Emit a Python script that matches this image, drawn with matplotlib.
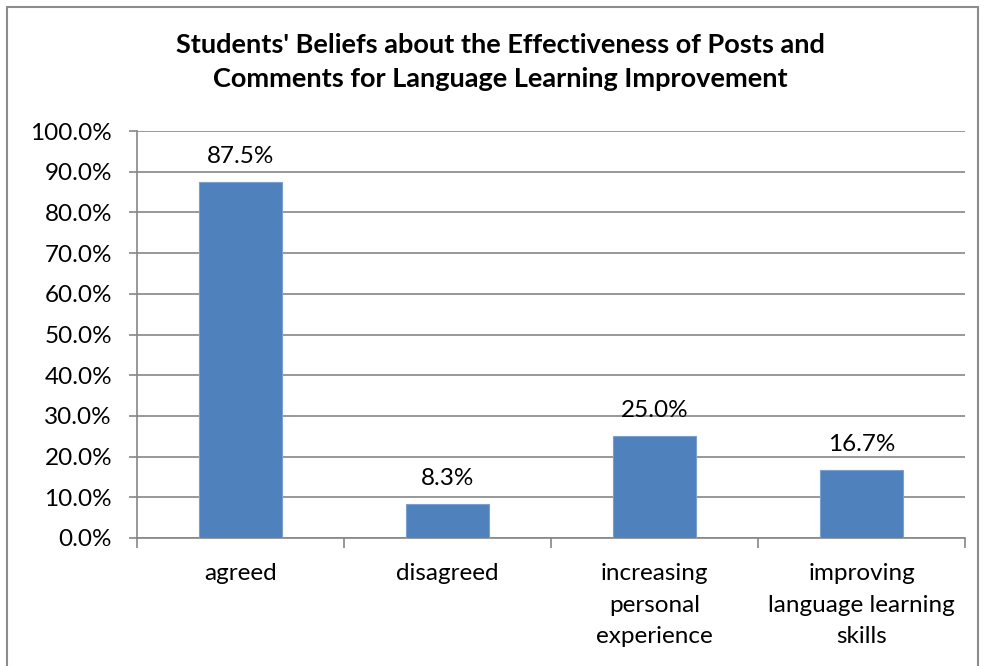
import matplotlib
matplotlib.use('Agg')
import matplotlib.pyplot as plt
from matplotlib.patches import Rectangle
from matplotlib.ticker import FuncFormatter, MultipleLocator

categories = ['agreed', 'disagreed', 'increasing\npersonal\nexperience',
              'improving\nlanguage learning\nskills']
values = [87.5, 8.3, 25.0, 16.7]
title = "Students' Beliefs about the Effectiveness of Posts and\nComments for Language Learning Improvement"

plt.rcParams['font.family'] = ['Lato', 'DejaVu Sans']

fig = plt.figure(figsize=(9.84, 6.66), dpi=100)
ax = fig.add_axes([137 / 984, 1 - 538 / 666, 828 / 984, 407 / 666])

grid_color = '#868686'
bar_color = '#4f81bd'

x = list(range(len(categories)))
bars = ax.bar(x, values, width=0.4, color=bar_color, edgecolor='#7a9fd0', linewidth=0.8, zorder=3)

for xi, v in zip(x, values):
    ax.annotate(f'{v:.1f}%', (xi, v), xytext=(0, 11), textcoords='offset points',
                ha='center', va='bottom', fontsize=17.5, color='black')

ax.set_xlim(-0.5, len(categories) - 0.5)
ax.set_ylim(0, 100)
ax.yaxis.set_major_locator(MultipleLocator(10))
ax.yaxis.set_major_formatter(FuncFormatter(lambda v, p: f'{v:.1f}%'))
ax.grid(axis='y', color=grid_color, linewidth=1.2, zorder=0)

# category labels centred under bars, ticks on category boundaries
ax.set_xticks(x)
ax.set_xticklabels(categories, fontsize=17.5, linespacing=1.62)
ax.tick_params(axis='x', which='major', length=0, pad=18)
ax.set_xticks([i - 0.5 for i in range(len(categories) + 1)], minor=True)
ax.tick_params(axis='x', which='minor', length=7, color=grid_color, width=1.2)
ax.tick_params(axis='y', labelsize=17.5, length=6, color=grid_color, width=1.2, pad=12)

for side in ['top', 'right']:
    ax.spines[side].set_visible(False)
for side in ['left', 'bottom']:
    ax.spines[side].set_color(grid_color)
    ax.spines[side].set_linewidth(1.2)

fig.text(500 / 984, 1 - 62 / 666, title, ha='center', va='center', fontsize=19.5,
         fontweight='bold', linespacing=1.52)

# chart frame
fig.patches.append(Rectangle((7 / 984, -0.1), 971 / 984, 1.1 - 7 / 666, transform=fig.transFigure,
                             fill=False, edgecolor='#8c8c8c', linewidth=1.5))

fig.savefig('out.png', dpi=100, facecolor='white')
